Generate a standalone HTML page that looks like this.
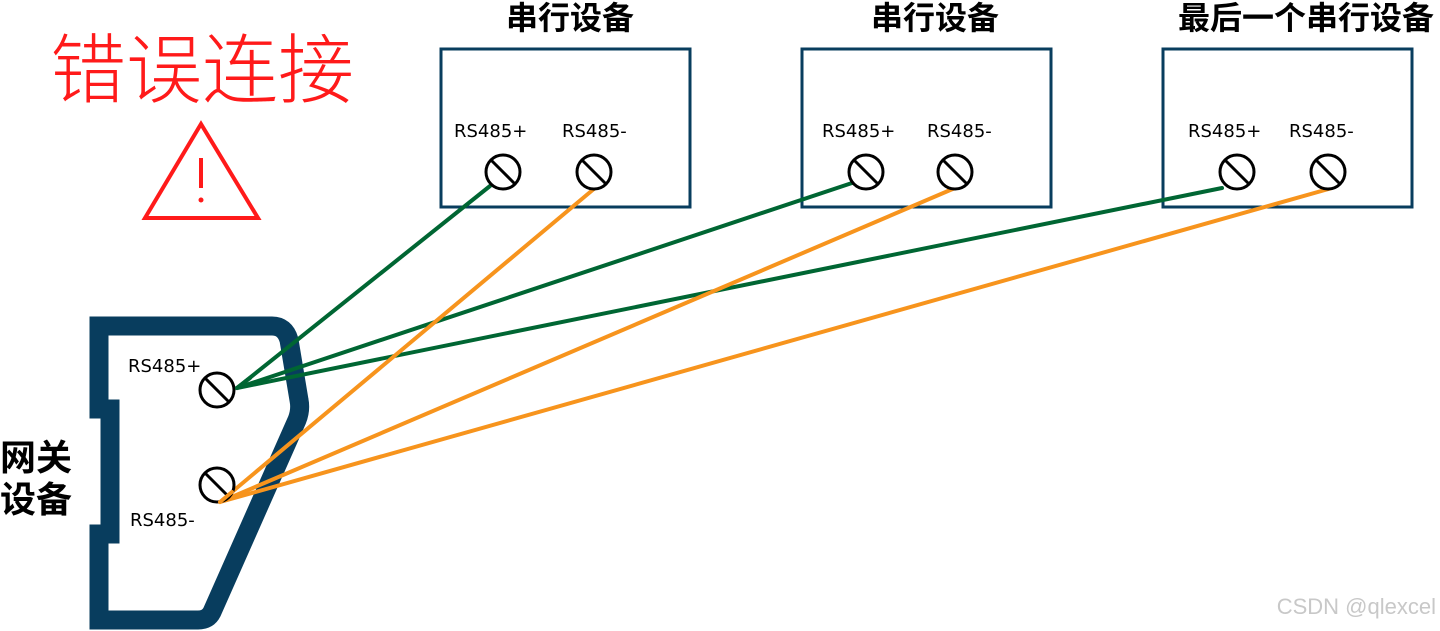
<!DOCTYPE html>
<html><head><meta charset="utf-8"><style>
body{margin:0;background:#fff;}
svg{display:block}
</style></head><body>
<svg width="1440" height="631" viewBox="0 0 1440 631" xmlns="http://www.w3.org/2000/svg">
<g font-family="Liberation Sans, Noto Sans CJK SC, sans-serif">
<text x="50" y="97" font-size="76" fill="#ff1a1a" font-family="Noto Sans CJK SC, sans-serif" font-weight="300">错误连接</text>
<polygon points="201,124 145,218 258,218" fill="none" stroke="#ff1a1a" stroke-width="4" stroke-linejoin="miter"/>
<line x1="201" y1="158" x2="201" y2="188" stroke="#ff1a1a" stroke-width="4"/>
<circle cx="201" cy="200" r="2.5" fill="#ff1a1a"/>

<text x="570" y="29" font-size="32" font-weight="bold" text-anchor="middle" font-family="Noto Sans CJK SC, sans-serif">串行设备</text>
<text x="935" y="29" font-size="32" font-weight="bold" text-anchor="middle" font-family="Noto Sans CJK SC, sans-serif">串行设备</text>
<text x="1306" y="29" font-size="32" font-weight="bold" text-anchor="middle" font-family="Noto Sans CJK SC, sans-serif">最后一个串行设备</text>

<g fill="none" stroke="#083d5e" stroke-width="3">
<rect x="441" y="49" width="249" height="158"/>
<rect x="802" y="49" width="249" height="158"/>
<rect x="1163" y="49" width="249" height="158"/>
</g>
<g font-size="18" font-family="DejaVu Sans, sans-serif">
<text x="454" y="137">RS485+</text><text x="562" y="137">RS485-</text>
<text x="822" y="137">RS485+</text><text x="927" y="137">RS485-</text>
<text x="1188" y="137">RS485+</text><text x="1289" y="137">RS485-</text>
<text x="128" y="372">RS485+</text><text x="130" y="526">RS485-</text>
</g>
<text x="0" y="470" font-size="36" font-weight="bold" font-family="Noto Sans CJK SC, sans-serif">网关</text>
<text x="0" y="512" font-size="36" font-weight="bold" font-family="Noto Sans CJK SC, sans-serif">设备</text>

<path d="M99,326 L272,326 Q285,326 289,340 L299,400 Q301,410 297,420 L212,612 Q208,620 198,620 L99,620 L99,534 L110,534 L110,409 L99,409 Z" fill="none" stroke="#083d5e" stroke-width="19" stroke-linejoin="miter"/>

<g stroke-width="4" stroke-linecap="round">
<line x1="237" y1="388" x2="490" y2="186" stroke="#006633"/>
<line x1="237" y1="388" x2="852" y2="183" stroke="#006633"/>
<line x1="237" y1="388" x2="1222" y2="188" stroke="#006633"/>
<line x1="220" y1="502" x2="595" y2="188" stroke="#f7941d"/>
<line x1="220" y1="502" x2="955" y2="188" stroke="#f7941d"/>
<line x1="220" y1="502" x2="1332" y2="188" stroke="#f7941d"/>
</g>

<g fill="#fff" stroke="#000" stroke-width="3">
<circle cx="503" cy="172" r="17"/><circle cx="594" cy="172" r="17"/>
<circle cx="866" cy="172" r="17"/><circle cx="955" cy="172" r="17"/>
<circle cx="1237" cy="172" r="17"/><circle cx="1328" cy="172" r="17"/>
<circle cx="217" cy="390" r="17"/><circle cx="217" cy="485" r="17"/>
</g>
<g stroke="#000" stroke-width="3">
<line x1="491" y1="160" x2="515" y2="184"/><line x1="582" y1="160" x2="606" y2="184"/>
<line x1="854" y1="160" x2="878" y2="184"/><line x1="943" y1="160" x2="967" y2="184"/>
<line x1="1225" y1="160" x2="1249" y2="184"/><line x1="1316" y1="160" x2="1340" y2="184"/>
<line x1="205" y1="378" x2="229" y2="402"/><line x1="205" y1="473" x2="229" y2="497"/>
</g>
<g stroke-width="4" stroke-linecap="round">
<line x1="237" y1="388" x2="250" y2="378" stroke="#006633"/>
<line x1="220" y1="502" x2="232" y2="492" stroke="#f7941d"/>
</g>
<text x="1436" y="614" font-size="22" fill="#c8c8c8" text-anchor="end">CSDN @qlexcel</text>
</g>
</svg>
</body></html>
